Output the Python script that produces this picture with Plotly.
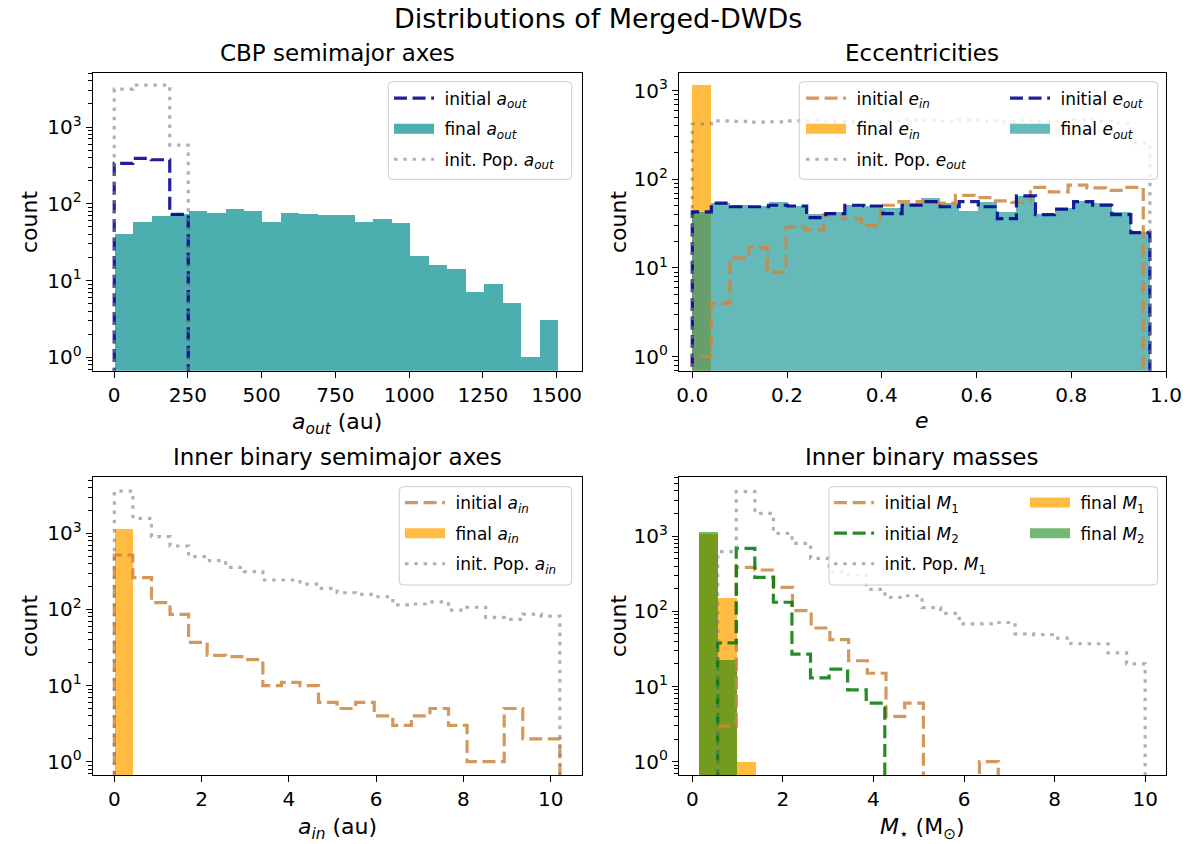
import numpy as np
import plotly.graph_objects as go
from plotly.subplots import make_subplots

W, H = 1197, 844

# ---------------- data (counts) ----------------
# Panel 1: CBP semimajor axes (au)
aout_final_range = (0, 1505)
aout_final_counts = [40, 58, 68, 72, 80, 75, 86, 80, 58, 75, 73, 70, 70, 58, 63, 56, 21, 16, 14, 7, 9, 5, 1, 3]
aout_init_range = (0, 251)
aout_init_counts = [336, 390, 375, 73]
aout_pop_range = (0, 251)
aout_pop_counts = [3120, 3520, 3520, 580]

# Panel 2: eccentricities
eout_range = (0, 0.966)
eout_final_counts = [43, 54, 51, 50, 55, 50, 40, 42, 51, 49, 47, 54, 61, 54, 44, 55, 43, 65, 40, 47, 56, 54, 42, 25]
eout_init_counts = [43, 54, 49, 49, 51, 50, 37, 41, 51, 50, 41, 51, 56, 49, 56, 49, 36, 65, 40, 46, 56, 51, 40, 25]
eout_pop_counts = [420, 455, 450, 440, 445, 455, 460, 450, 445, 450, 455, 470, 460, 450, 465, 455, 445, 460, 450, 455, 470, 450, 430, 255]
ein_init_range = (0, 0.952)
ein_init_counts = [1, 4, 13, 17, 9, 29, 27, 40, 36, 30, 51, 56, 56, 54, 66, 62, 57, 55, 81, 72, 86, 80, 75, 81]
ein_final_range = (0, 0.04)
ein_final_counts = [1150]

# Panel 3: inner binary semimajor axes (au)
ain_range = (0, 10.21)
ain_init_counts = [520, 262, 123, 86, 37, 25, 24, 22, 10, 11, 10, 6, 5, 6, 4, 3, 4, 5, 3, 1, 1, 5, 2, 2]
ain_pop_counts = [3600, 1580, 905, 683, 494, 438, 358, 314, 244, 244, 216, 190, 166, 158, 147, 115, 118, 126, 98, 107, 79, 74, 87, 82]
ain_final_range = (0, 0.42)
ain_final_counts = [1170]

# Panel 4: inner binary masses (Msun)
m_final_range = (0.15, 1.40)
m1_final_counts = [1067, 153, 1]
m2_final_counts = [1145, 23, 0]
m1_init_range = (0.56, 6.755)
m1_init_counts = [3, 385, 354, 208, 102, 60, 42, 22, 15, 4, 6, 0, 0, 0, 1]
m2_init_range = (0.56, 4.25)
m2_init_counts = [38, 688, 283, 132, 27, 13, 17, 9, 6]
m1_pop_range = (0.56, 10.0)
m1_pop_counts = [620, 3900, 2000, 1090, 800, 507, 336, 304, 196, 153, 161, 112, 94, 68, 68, 71, 50, 49, 44, 37, 37, 28, 20]

log_tick_vals = [1, 10, 100, 1000]
log_tick_text = ["10<sup>0</sup>", "10<sup>1</sup>", "10<sup>2</sup>", "10<sup>3</sup>"]

# ---------------- styling ----------------
FONT = "DejaVu Sans"
FLOOR = 1e-2
C_TEAL1 = "rgba(0,139,139,0.70)"
C_TEAL2 = "rgba(0,139,139,0.60)"
C_ORANGE = "rgba(255,165,0,0.75)"
C_GREEN = "rgba(0,128,0,0.55)"
C_BLUE = "rgba(0,0,139,0.88)"
C_PERU = "rgba(205,133,63,0.85)"
C_GRAY = "rgba(128,128,128,0.62)"
C_DGREEN = "rgba(0,120,0,0.85)"
DASH = "13px,5.6px"
DOT = "3.5px,5.8px"
LW = 3.2
SP = "\u00a0"  # small gap between legend handle and label


def edges(rng, n):
    return np.linspace(rng[0], rng[1], n + 1)


def step_xy(rng, counts):
    e = edges(rng, len(counts))
    ys = [c if c > 0 else FLOOR for c in counts]
    xs = [e[0]] + list(e[:-1]) + [e[-1]]
    ys = [FLOOR] + ys + [FLOOR]
    return xs, ys


fig = make_subplots(rows=2, cols=2)


def add_step(row, col, rng, counts, color, dash, name, legend, rank):
    xs, ys = step_xy(rng, counts)
    fig.add_trace(go.Scatter(x=xs, y=ys, mode="lines",
                             line=dict(color=color, width=LW, dash=dash, shape="hv"),
                             name=SP + name, legend=legend, legendgroup=legend + str(rank),
                             legendrank=rank, hoverinfo="skip"), row=row, col=col)


def add_bars(row, col, rng, counts, color, name, legend, rank):
    e = edges(rng, len(counts))
    cen = (e[:-1] + e[1:]) / 2
    w = np.diff(e)
    keep = [i for i, c in enumerate(counts) if c > 0]
    fig.add_trace(go.Bar(x=cen[keep], y=[counts[i] for i in keep], width=w[keep],
                         marker=dict(color=color, line=dict(width=0)),
                         showlegend=False, legendgroup=legend + str(rank),
                         hoverinfo="skip"), row=row, col=col)
    # legend entry drawn as a wide filled patch (like the reference)
    fig.add_trace(go.Scatter(x=[None], y=[None], mode="lines",
                             line=dict(color=color, width=12),
                             name=SP + name, legend=legend, legendgroup=legend + str(rank),
                             legendrank=rank, hoverinfo="skip"), row=row, col=col)


# Panel 1
add_bars(1, 1, aout_final_range, aout_final_counts, C_TEAL1, "final <i>a<sub>out</sub></i>", "legend", 2)
add_step(1, 1, aout_init_range, aout_init_counts, C_BLUE, DASH, "initial <i>a<sub>out</sub></i>", "legend", 1)
add_step(1, 1, aout_pop_range, aout_pop_counts, C_GRAY, DOT, "init. Pop. <i>a<sub>out</sub></i>", "legend", 3)

# Panel 2
add_bars(1, 2, ein_final_range, ein_final_counts, C_ORANGE, "final <i>e<sub>in</sub></i>", "legend2", 2)
add_bars(1, 2, eout_range, eout_final_counts, C_TEAL2, "final <i>e<sub>out</sub></i>", "legend3", 2)
add_step(1, 2, ein_init_range, ein_init_counts, C_PERU, DASH, "initial <i>e<sub>in</sub></i>", "legend2", 1)
add_step(1, 2, eout_range, eout_init_counts, C_BLUE, DASH, "initial <i>e<sub>out</sub></i>", "legend3", 1)
add_step(1, 2, eout_range, eout_pop_counts, C_GRAY, DOT, "init. Pop. <i>e<sub>out</sub></i>", "legend2", 3)

# Panel 3
add_bars(2, 1, ain_final_range, ain_final_counts, C_ORANGE, "final <i>a<sub>in</sub></i>", "legend4", 2)
add_step(2, 1, ain_range, ain_init_counts, C_PERU, DASH, "initial <i>a<sub>in</sub></i>", "legend4", 1)
add_step(2, 1, ain_range, ain_pop_counts, C_GRAY, DOT, "init. Pop. <i>a<sub>in</sub></i>", "legend4", 3)

# Panel 4
add_bars(2, 2, m_final_range, m1_final_counts, C_ORANGE, "final <i>M</i><sub>1</sub>", "legend6", 1)
add_bars(2, 2, m_final_range, m2_final_counts, C_GREEN, "final <i>M</i><sub>2</sub>", "legend6", 2)
add_step(2, 2, m1_init_range, m1_init_counts, C_PERU, DASH, "initial <i>M</i><sub>1</sub>", "legend5", 1)
add_step(2, 2, m2_init_range, m2_init_counts, C_DGREEN, DASH, "initial <i>M</i><sub>2</sub>", "legend5", 2)
add_step(2, 2, m1_pop_range, m1_pop_counts, C_GRAY, DOT, "init. Pop. <i>M</i><sub>1</sub>", "legend5", 3)

# ---------------- axes ----------------
minor_vals = [k * 10.0 ** d for d in range(-1, 4) for k in range(2, 10)]
ax_common = dict(showline=True, linecolor="black", linewidth=1.3, mirror=True,
                 ticks="outside", ticklen=6, tickwidth=1.3, tickcolor="black",
                 showgrid=False, zeroline=False, automargin=False,
                 tickfont=dict(family=FONT, size=20, color="black"))
ylog = dict(ax_common, type="log", tickvals=log_tick_vals, ticktext=log_tick_text,
            minor=dict(tickvals=minor_vals, ticks="outside", ticklen=3.5, tickwidth=1,
                       tickcolor="black", showgrid=False))

xL = [92.7 / W, 581.7 / W]
xR = [679 / W, 1166 / W]
yT = [1 - 370.7 / H, 1 - 73.3 / H]
yB = [1 - 775 / H, 1 - 476.7 / H]

fig.update_layout(
    xaxis=dict(ax_common, domain=xL, range=[-73, 1585], tickvals=[0, 250, 500, 750, 1000, 1250, 1500]),
    yaxis=dict(ylog, domain=yT, range=[-0.174, 3.70]),
    xaxis2=dict(ax_common, domain=xR, range=[-0.028, 1.0], tickvals=[0, 0.2, 0.4, 0.6, 0.8, 1.0],
                ticktext=["0.0", "0.2", "0.4", "0.6", "0.8", "1.0"]),
    yaxis2=dict(ylog, domain=yT, range=[-0.158, 3.195]),
    xaxis3=dict(ax_common, domain=xL, range=[-0.496, 10.71], tickvals=[0, 2, 4, 6, 8, 10]),
    yaxis3=dict(ylog, domain=yB, range=[-0.175, 3.745]),
    xaxis4=dict(ax_common, domain=xR, range=[-0.294, 10.46], tickvals=[0, 2, 4, 6, 8, 10]),
    yaxis4=dict(ylog, domain=yB, range=[-0.177, 3.79]),
)


# ---------------- legends ----------------
def leg(xpx, ypx):
    return dict(x=xpx / W, y=1 - ypx / H, xanchor="left", yanchor="top",
                bgcolor="rgba(0,0,0,0)", borderwidth=0, itemwidth=40,
                traceorder="grouped", tracegroupgap=5.5,
                font=dict(family=FONT, size=17, color="black"))


fig.update_layout(
    legend=leg(389, 80.5),
    legend2=leg(801, 80.5),
    legend3=leg(1005, 80.5),
    legend4=leg(400, 485),
    legend5=leg(829, 485),
    legend6=leg(1025, 485),
)


def rrect(x0, y0, x1, y1, r=4):
    def X(p):
        return p / W

    def Y(p):
        return 1 - p / H
    return (f"M {X(x0 + r)} {Y(y0)} L {X(x1 - r)} {Y(y0)} Q {X(x1)} {Y(y0)} {X(x1)} {Y(y0 + r)} "
            f"L {X(x1)} {Y(y1 - r)} Q {X(x1)} {Y(y1)} {X(x1 - r)} {Y(y1)} "
            f"L {X(x0 + r)} {Y(y1)} Q {X(x0)} {Y(y1)} {X(x0)} {Y(y1 - r)} "
            f"L {X(x0)} {Y(y0 + r)} Q {X(x0)} {Y(y0)} {X(x0 + r)} {Y(y0)} Z")


boxes = [(388.3, 81.7, 571.7, 179.3), (799.3, 81.7, 1157.7, 179.3),
         (399.3, 486.7, 571.7, 585), (829, 486.7, 1157.7, 585)]
fig.update_layout(shapes=[dict(type="path", path=rrect(*b), xref="paper", yref="paper",
                               fillcolor="rgba(255,255,255,0.8)",
                               line=dict(color="rgb(204,204,204)", width=1), layer="above")
                          for b in boxes])


# ---------------- titles and labels ----------------
def ann(text, xpx, ypx, size, angle=0):
    return dict(text=text, x=xpx / W, y=1 - ypx / H, xref="paper", yref="paper",
                showarrow=False, xanchor="center", yanchor="middle", textangle=angle,
                font=dict(family=FONT, size=size, color="black"))


fig.update_layout(annotations=[
    ann("Distributions of Merged-DWDs", 598, 19, 27),
    ann("CBP semimajor axes", 337, 53, 23),
    ann("Eccentricities", 922, 53, 23),
    ann("Inner binary semimajor axes", 337, 457, 23),
    ann("Inner binary masses", 922, 457, 23),
    ann("<i>a<sub>out</sub></i> (au)", 337, 423, 22),
    ann("<i>e</i>", 922, 421, 22),
    ann("<i>a<sub>in</sub></i> (au)", 337, 828, 22),
    ann("<i>M</i><sub>⋆</sub> (M<sub>⊙</sub>)", 922, 828, 22),
    ann("count", 29, 222, 22, -90),
    ann("count", 618, 222, 22, -90),
    ann("count", 29, 626, 22, -90),
    ann("count", 618, 626, 22, -90),
])

fig.update_layout(width=W, height=H, margin=dict(l=0, r=0, t=0, b=0, autoexpand=False),
                  paper_bgcolor="white", plot_bgcolor="white", barmode="overlay",
                  bargap=0, font=dict(family=FONT, color="black"))

fig.write_html("out.html", config={"displayModeBar": False},
               post_script="document.body.style.margin='0px';")
